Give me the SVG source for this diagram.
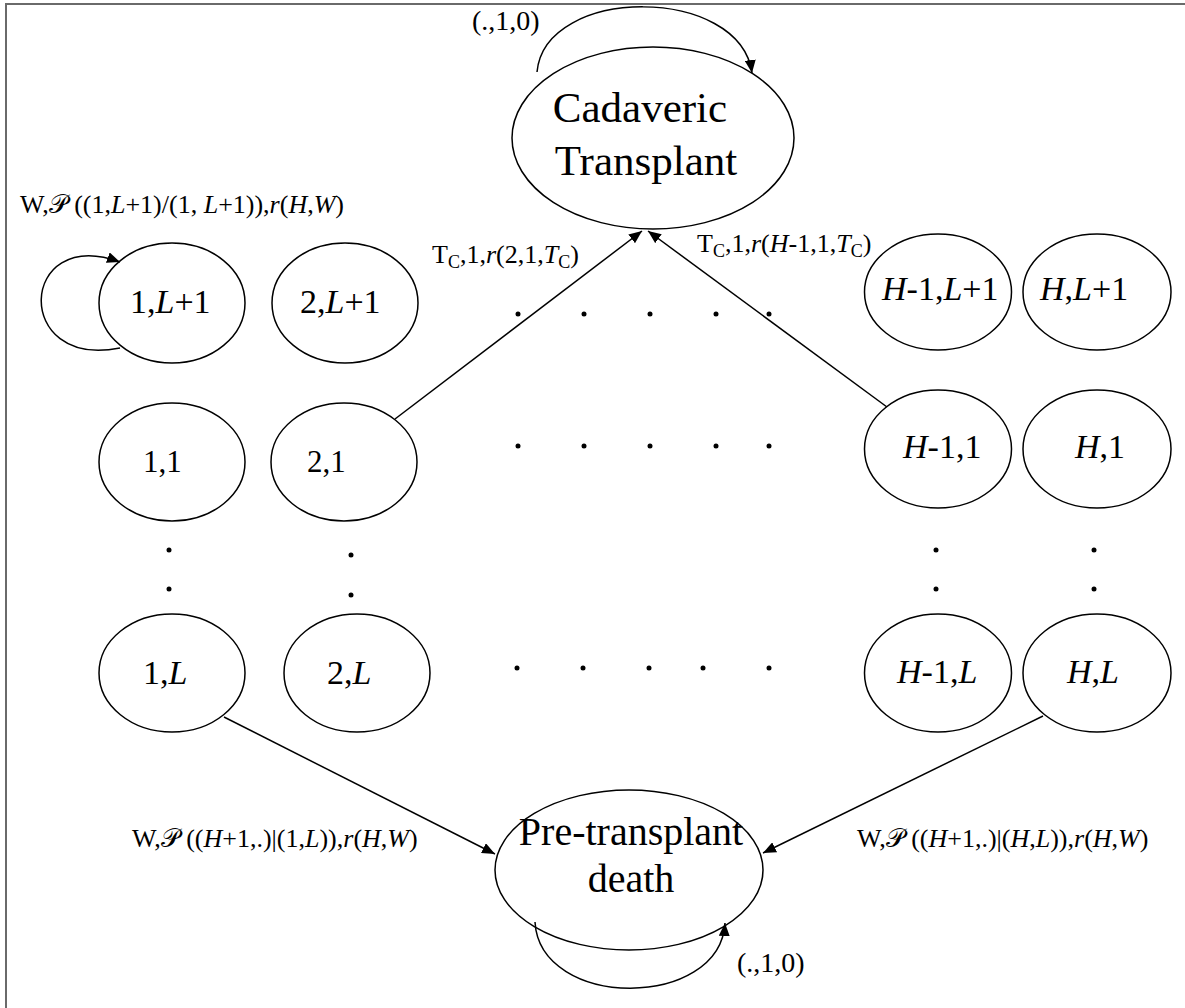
<svg xmlns="http://www.w3.org/2000/svg" width="1185" height="1008" viewBox="0 0 1185 1008">
  <defs>
    <marker id="arrow" markerWidth="13" markerHeight="11" refX="13" refY="5.5" orient="auto" markerUnits="userSpaceOnUse">
      <path d="M0,0 L13,5.5 L0,11 Z" fill="#000"/>
    </marker>
    <style>
      text { font-family: "Liberation Serif", "DejaVu Serif", serif; fill: #000; }
      .node ellipse { fill: #fff; stroke: #000; stroke-width: 1.5; }
      .big { font-size: 43px; text-anchor: middle; }
      .mid { font-size: 40px; text-anchor: middle; }
      .lbl { font-size: 34px; }
      .lbs { font-size: 31px; }
      .edge { font-size: 26px; }
      .loop { font-size: 28px; }
      .it { font-style: italic; }
      .sub { font-size: 18px; }
      .conn path, .conn line { fill: none; stroke: #000; stroke-width: 1.5; }
      .dots circle { fill: #000; }
    </style>
  </defs>

  <rect width="1185" height="1008" fill="#fff"/>
  <!-- frame -->
  <rect x="6" y="4" width="1190" height="1020" fill="none" stroke="#6a6a6a" stroke-width="2"/>

  <!-- absorbing states -->
  <g id="cadaveric" class="node">
    <ellipse cx="653" cy="138" rx="141" ry="91"/>
    <text class="big" x="640" y="122">Cadaveric</text>
    <text class="big" x="646" y="175">Transplant</text>
  </g>
  <g id="death" class="node">
    <ellipse cx="629" cy="870" rx="134" ry="80"/>
    <text class="mid" x="631" y="845">Pre-transplant</text>
    <text class="mid" x="631" y="892">death</text>
  </g>

  <!-- row L+1 -->
  <g id="n1_L1" class="node">
    <ellipse cx="172" cy="303" rx="73" ry="60"/>
    <text class="lbl" x="130" y="313">1,<tspan class="it">L</tspan>+1</text>
  </g>
  <g id="n2_L1" class="node">
    <ellipse cx="345" cy="303" rx="73" ry="60"/>
    <text class="lbl" x="300" y="313">2,<tspan class="it">L</tspan>+1</text>
  </g>
  <g id="nHm1_L1" class="node">
    <ellipse cx="938" cy="292" rx="73.5" ry="58"/>
    <text class="lbl" x="882" y="300"><tspan class="it">H</tspan>-1,<tspan class="it">L</tspan>+1</text>
  </g>
  <g id="nH_L1" class="node">
    <ellipse cx="1097" cy="292" rx="74" ry="58"/>
    <text class="lbl" x="1040" y="300"><tspan class="it">H</tspan>,<tspan class="it">L</tspan>+1</text>
  </g>

  <!-- row 1 -->
  <g id="n1_1" class="node">
    <ellipse cx="172" cy="462" rx="73" ry="59"/>
    <text class="lbs" x="143" y="472">1,1</text>
  </g>
  <g id="n2_1" class="node">
    <ellipse cx="344" cy="462" rx="73" ry="59"/>
    <text class="lbs" x="307" y="472">2,1</text>
  </g>
  <g id="nHm1_1" class="node">
    <ellipse cx="938" cy="449" rx="73.5" ry="59"/>
    <text class="lbl" x="903" y="458"><tspan class="it">H</tspan>-1,1</text>
  </g>
  <g id="nH_1" class="node">
    <ellipse cx="1097" cy="449" rx="74" ry="59"/>
    <text class="lbl" x="1075" y="458"><tspan class="it">H</tspan>,1</text>
  </g>

  <!-- row L -->
  <g id="n1_L" class="node">
    <ellipse cx="172" cy="673" rx="73" ry="59"/>
    <text class="lbl" x="143" y="684">1,<tspan class="it">L</tspan></text>
  </g>
  <g id="n2_L" class="node">
    <ellipse cx="357" cy="673" rx="73" ry="59"/>
    <text class="lbl" x="327" y="684">2,<tspan class="it">L</tspan></text>
  </g>
  <g id="nHm1_L" class="node">
    <ellipse cx="938" cy="673" rx="73.5" ry="59"/>
    <text class="lbl" x="897" y="683"><tspan class="it">H</tspan>-1,<tspan class="it">L</tspan></text>
  </g>
  <g id="nH_L" class="node">
    <ellipse cx="1097" cy="673" rx="74" ry="59"/>
    <text class="lbl" x="1067" y="683"><tspan class="it">H</tspan>,<tspan class="it">L</tspan></text>
  </g>

  <!-- ellipsis dots -->
  <g id="dots" class="dots">
    <circle cx="518" cy="314" r="2.5"/><circle cx="584" cy="314" r="2.5"/><circle cx="650" cy="314" r="2.5"/><circle cx="716" cy="314" r="2.5"/><circle cx="769" cy="314" r="2.5"/>
    <circle cx="518" cy="446" r="2.5"/><circle cx="584" cy="446" r="2.5"/><circle cx="650" cy="446" r="2.5"/><circle cx="716" cy="446" r="2.5"/><circle cx="769" cy="446" r="2.5"/>
    <circle cx="517" cy="668" r="2.5"/><circle cx="583" cy="668" r="2.5"/><circle cx="649" cy="668" r="2.5"/><circle cx="703" cy="668" r="2.5"/><circle cx="769" cy="668" r="2.5"/>
    <circle cx="169" cy="550" r="2.5"/><circle cx="169" cy="589" r="2.5"/>
    <circle cx="351" cy="555" r="2.5"/><circle cx="351" cy="595" r="2.5"/>
    <circle cx="936" cy="550" r="2.5"/><circle cx="936" cy="589" r="2.5"/>
    <circle cx="1094" cy="550" r="2.5"/><circle cx="1094" cy="589" r="2.5"/>
  </g>

  <!-- transitions -->
  <g id="connectors" class="conn">
    <path d="M537,72 C545,-15 740,-15 752,73" marker-end="url(#arrow)"/>
    <path d="M120,348 C12,370 18,225 120,262" marker-end="url(#arrow)"/>
    <path d="M535,922 C540,1010 720,1010 725,923" marker-end="url(#arrow)"/>
    <line x1="395" y1="419" x2="642" y2="231" marker-end="url(#arrow)"/>
    <line x1="887" y1="407" x2="648" y2="231" marker-end="url(#arrow)"/>
    <line x1="224" y1="717" x2="495" y2="854" marker-end="url(#arrow)"/>
    <line x1="1043" y1="716" x2="763" y2="853" marker-end="url(#arrow)"/>
  </g>

  <!-- transition labels -->
  <g id="labels">
    <text class="loop" x="472" y="30">(.,1,0)</text>
    <text class="loop" x="737" y="972">(.,1,0)</text>
    <text class="edge" x="20" y="213">W,𝒫 ((1,<tspan class="it">L</tspan>+1)/(1, <tspan class="it">L</tspan>+1)),<tspan class="it">r</tspan>(<tspan class="it">H</tspan>,<tspan class="it">W</tspan>)</text>
    <text class="edge" x="432" y="263">T<tspan class="sub" dy="5">C</tspan><tspan dy="-5">,1,</tspan><tspan class="it">r</tspan>(2,1,<tspan class="it">T</tspan><tspan class="sub" dy="5">C</tspan><tspan dy="-5">)</tspan></text>
    <text class="edge" x="697" y="252">T<tspan class="sub" dy="5">C</tspan><tspan dy="-5">,1,</tspan><tspan class="it">r</tspan>(<tspan class="it">H</tspan>-1,1,<tspan class="it">T</tspan><tspan class="sub" dy="5">C</tspan><tspan dy="-5">)</tspan></text>
    <text class="edge" x="132" y="847">W,𝒫 ((<tspan class="it">H</tspan>+1,.)|(1,<tspan class="it">L</tspan>)),<tspan class="it">r</tspan>(<tspan class="it">H</tspan>,<tspan class="it">W</tspan>)</text>
    <text class="edge" x="857" y="847">W,𝒫 ((<tspan class="it">H</tspan>+1,.)|(<tspan class="it">H</tspan>,<tspan class="it">L</tspan>)),<tspan class="it">r</tspan>(<tspan class="it">H</tspan>,<tspan class="it">W</tspan>)</text>
  </g>
</svg>
